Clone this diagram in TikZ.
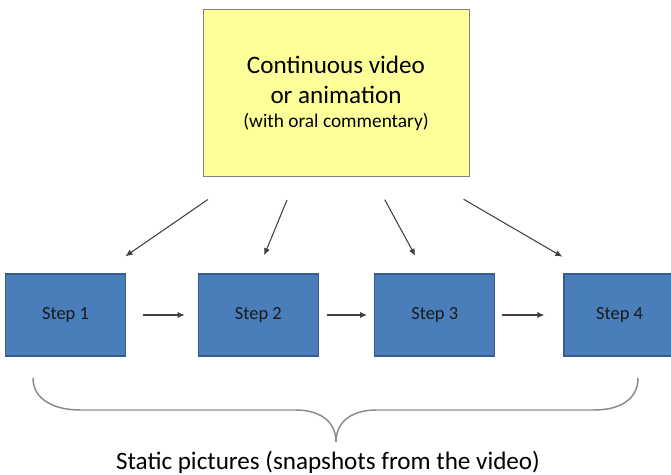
\documentclass[tikz,border=0pt]{standalone}
\usepackage{fontspec}
\setmainfont{Carlito}
\usetikzlibrary{arrows.meta,calc,positioning}
\definecolor{memoyellow}{HTML}{FFFF99}
\definecolor{stepblue}{HTML}{4A7EBB}
\definecolor{stepedge}{HTML}{385D8A}

\begin{document}
\begin{tikzpicture}[
		x=0.02cm, y=-0.02cm,
		node distance=10pt,
		source/.style={draw=black!50, fill=memoyellow, minimum width=5.32cm, minimum height=3.34cm, align=center, font=\fontsize{14.3}{17.6}\selectfont},
		stepbox/.style={draw=stepedge, line width=0.8pt, fill=stepblue, minimum height=1.64cm, minimum width=2.4cm, text=black!90, font=\fontsize{10.5}{12}\selectfont},
		link/.style={-{Latex[length=4pt,width=3.5pt]}, black!75, line width=0.6pt},
		bracket/.style={black!45, line width=0.85pt},
	]
		\useasboundingbox (0,0) rectangle (671,475);

		\node (video) [source] at (336,93) {Continuous video\\or animation\\[-4.3pt]{\fontsize{11}{12}\selectfont (with oral commentary)}};

		\node (s1) [stepbox] at (65.5,315) {Step 1};
		\node (s2) [stepbox, right=1.43cm of s1] {Step 2};
		\node (s3) [stepbox, right=1.1cm of s2] {Step 3};
		\node (s4) [stepbox, right=1.36cm of s3, minimum width=2.22cm] {Step 4};

		\draw[link, shorten <=0.8cm, shorten >=0.6cm] ($(video.south west)!0.143!(video.south east)$) -- ($(s1.north west)!0.79!(s1.north east)$);
		\draw[link, shorten <=0.5cm, shorten >=0.39cm] ($(video.south west)!0.352!(video.south east)$) -- ($(s2.north west)!0.487!(s2.north east)$);
		\draw[link, shorten <=0.52cm, shorten >=0.4cm] ($(video.south west)!0.636!(video.south east)$) -- ($(s3.north west)!0.418!(s3.north east)$);
		\draw[link, shorten <=0.89cm, shorten >=0.66cm] ($(video.south west)!0.834!(video.south east)$) -- ($(s4.north west)!0.244!(s4.north east)$);

		\draw[link, shorten <=0.33cm, shorten >=0.26cm] (s1) -- (s2);
		\draw[link, shorten <=0.16cm, shorten >=0.14cm] (s2) -- (s3);
		\draw[link, shorten <=0.14cm, shorten >=0.38cm] (s3) -- (s4);

		\draw[bracket] (33,378) .. controls (33,400) and (55,410) .. (80,410) -- (296,410)
			.. controls (318,410) and (336,420) .. (336,442)
			.. controls (336,420) and (354,410) .. (376,410) -- (594,410)
			.. controls (619,410) and (638,400) .. (638,378);

		\node (caption) [anchor=base, font=\fontsize{14.3}{17}\selectfont] at (328,469) {Static pictures (snapshots from the video)};
	\end{tikzpicture}
\end{document}
